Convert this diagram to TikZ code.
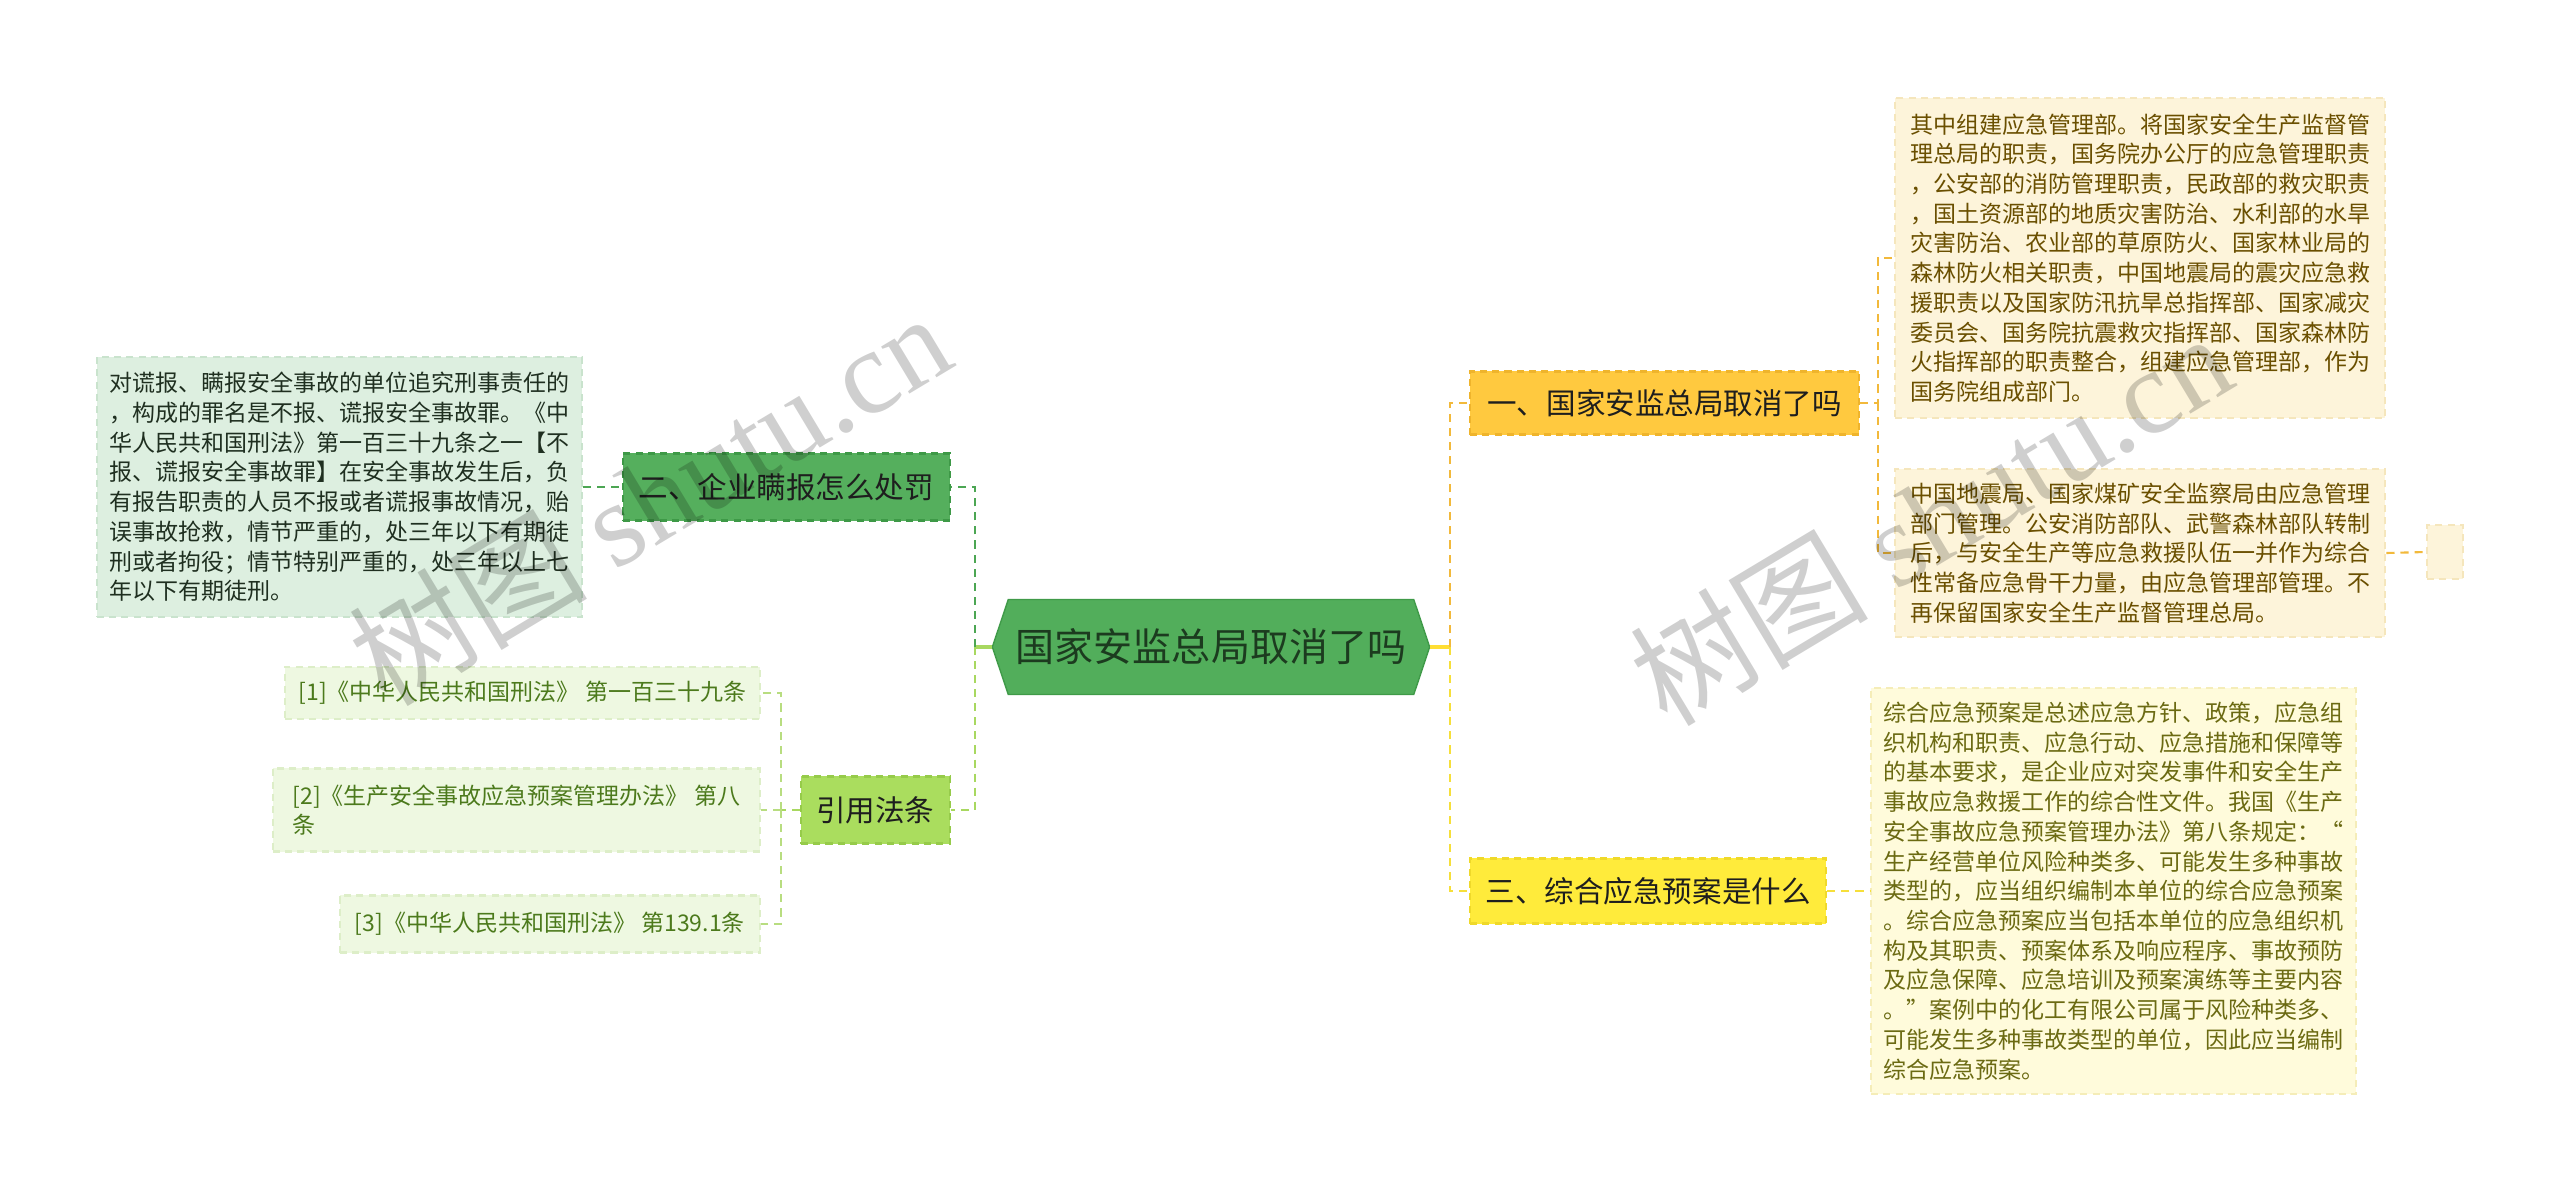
\documentclass[tikz,border=0pt]{standalone}
\usepackage{fontspec}
\setmainfont{Noto Sans CJK SC}
\newfontfamily\markfont{Liberation Serif}
\usepackage{tikz}
\usetikzlibrary{shapes.symbols}
\definecolor{rootGreen}{HTML}{52AE5B}
\definecolor{rootEdge}{HTML}{3F9A48}
\definecolor{rootText}{HTML}{1C3B1F}
\definecolor{amber}{HTML}{FFC93F}
\definecolor{amberEdge}{HTML}{EFB42C}
\definecolor{lemon}{HTML}{FFEB3B}
\definecolor{lemonEdge}{HTML}{EFD92A}
\definecolor{midGreen}{HTML}{55AF5D}
\definecolor{midGreenEdge}{HTML}{3E9947}
\definecolor{limeGreen}{HTML}{AADD5E}
\definecolor{limeEdge}{HTML}{96CB4A}
\definecolor{cream}{HTML}{FDF4DA}
\definecolor{creamEdge}{HTML}{F5E6BC}
\definecolor{paleLemon}{HTML}{FFFBDB}
\definecolor{paleLemonEdge}{HTML}{F5EDB8}
\definecolor{paleGreen}{HTML}{DDEFE0}
\definecolor{paleGreenEdge}{HTML}{C9E3CD}
\definecolor{paleLime}{HTML}{EEF8E1}
\definecolor{paleLimeEdge}{HTML}{DDEEC8}
\definecolor{brownText}{HTML}{6A4F00}
\definecolor{oliveText}{HTML}{6B6A12}
\definecolor{darkText}{HTML}{1F2F20}
\definecolor{citeText}{HTML}{4C7A1C}
\definecolor{topicText}{HTML}{1E1E1E}
\definecolor{amberLine}{HTML}{F2B93B}
\definecolor{lemonLine}{HTML}{F6DF3A}
\definecolor{yellowLine}{HTML}{FFDE33}
\definecolor{greenLine}{HTML}{4CA653}
\definecolor{limeLine}{HTML}{A8D860}
\definecolor{paleLimeLine}{HTML}{B8DD80}

\begin{document}
\begin{tikzpicture}[x=0.01cm,y=-0.01cm,
      box/.style={inner sep=0pt,line width=0.6pt,dash pattern=on 2pt off 1.5pt},
      topic/.style={box,font=\fontsize{8.4pt}{10pt}\selectfont,text=topicText,minimum height=0.63cm},
      leaf/.style={box,font=\fontsize{6.54pt}{8.45pt}\selectfont,align=left},
      link/.style={line width=0.6pt,dash pattern=on 2.3pt off 1.7pt},
      stub/.style={line width=0.9pt},
      wmark/.style={rotate=31,text=black,text opacity=0.19,font=\fontsize{34pt}{34pt}\selectfont}]
    \useasboundingbox (0,0) rectangle (2560,1194);

    \node[signal,signal to=east and west,signal pointer angle=143,fill=rootGreen,draw=rootEdge,
          minimum width=4.37cm,minimum height=0.95cm,inner sep=0pt,
          font=\fontsize{11.1pt}{13pt}\selectfont,text=rootText] (root) at (1211,647) {国家安监总局取消了吗};

    \node[topic,fill=amber,draw=amberEdge,minimum width=3.89cm,anchor=west] (sec1) at (1469,403) {一、国家安监总局取消了吗};
    \node[topic,fill=lemon,draw=lemonEdge,minimum width=3.56cm,minimum height=0.65cm,anchor=west] (sec3) at (1469,891) {三、综合应急预案是什么};
    \node[topic,fill=midGreen,draw=midGreenEdge,minimum width=3.27cm,minimum height=0.67cm,anchor=east] (sec2) at (951,487) {二、企业瞒报怎么处罚};
    \node[topic,fill=limeGreen,draw=limeEdge,minimum width=1.49cm,minimum height=0.67cm,anchor=east] (cite) at (951,810) {引用法条};

    \node[leaf,fill=cream,draw=creamEdge,text=brownText,minimum width=4.9cm,minimum height=3.2cm,anchor=west] (dept) at (1894,258)
      {其中组建应急管理部。将国家安全生产监督管\\理总局的职责，国务院办公厅的应急管理职责\\，公安部的消防管理职责，民政部的救灾职责\\，国土资源部的地质灾害防治、水利部的水旱\\灾害防治、农业部的草原防火、国家林业局的\\森林防火相关职责，中国地震局的震灾应急救\\援职责以及国家防汛抗旱总指挥部、国家减灾\\委员会、国务院抗震救灾指挥部、国家森林防\\火指挥部的职责整合，组建应急管理部，作为\\国务院组成部门。};
    \node[leaf,fill=cream,draw=creamEdge,text=brownText,minimum width=4.9cm,minimum height=1.68cm,anchor=west] (merge) at (1894,553)
      {中国地震局、国家煤矿安全监察局由应急管理\\部门管理。公安消防部队、武警森林部队转制\\后，与安全生产等应急救援队伍一并作为综合\\性常备应急骨干力量，由应急管理部管理。不\\再保留国家安全生产监督管理总局。};
    \node[box,fill=cream,draw=creamEdge,minimum width=0.36cm,minimum height=0.54cm,anchor=west] (spare) at (2426,552) {};
    \node[leaf,fill=paleLemon,draw=paleLemonEdge,text=oliveText,minimum width=4.85cm,minimum height=4.05cm,anchor=west] (plan) at (1870,891)
      {综合应急预案是总述应急方针、政策，应急组\\织机构和职责、应急行动、应急措施和保障等\\的基本要求，是企业应对突发事件和安全生产\\事故应急救援工作的综合性文件。我国《生产\\安全事故应急预案管理办法》第八条规定：“\\生产经营单位风险种类多、可能发生多种事故\\类型的，应当组织编制本单位的综合应急预案\\。综合应急预案应当包括本单位的应急组织机\\构及其职责、预案体系及响应程序、事故预防\\及应急保障、应急培训及预案演练等主要内容\\。”案例中的化工有限公司属于风险种类多、\\可能发生多种事故类型的单位，因此应当编制\\综合应急预案。};
    \node[leaf,fill=paleGreen,draw=paleGreenEdge,text=darkText,minimum width=4.85cm,minimum height=2.6cm,anchor=east] (penalty) at (583,487)
      {对谎报、瞒报安全事故的单位追究刑事责任的\\，构成的罪名是不报、谎报安全事故罪。《中\\华人民共和国刑法》第一百三十九条之一【不\\报、谎报安全事故罪】在安全事故发生后，负\\有报告职责的人员不报或者谎报事故情况，贻\\误事故抢救，情节严重的，处三年以下有期徒\\刑或者拘役；情节特别严重的，处三年以上七\\年以下有期徒刑。};

    \node[leaf,fill=paleLime,draw=paleLimeEdge,text=citeText,minimum width=4.75cm,minimum height=0.52cm,anchor=east] (ref1) at (761,693) {[1]《中华人民共和国刑法》 第一百三十九条};
    \node[leaf,fill=paleLime,draw=paleLimeEdge,text=citeText,minimum width=4.87cm,minimum height=0.83cm,anchor=east] (ref2) at (761,810) {[2]《生产安全事故应急预案管理办法》 第八\\条};
    \node[leaf,fill=paleLime,draw=paleLimeEdge,text=citeText,minimum width=4.2cm,minimum height=0.57cm,anchor=east] (ref3) at (761,924) {[3]《中华人民共和国刑法》 第139.1条};

    \coordinate (rhub) at (1450,647);
    \coordinate (lhub) at (975,647);
    \coordinate (hub1) at (1878,403);
    \coordinate (hub2) at (781,810);
    \draw[stub,draw=yellowLine] (root.east) -- (rhub);
    \draw[link,draw=amberLine] (rhub) |- (sec1.west);
    \draw[link,draw=lemonLine] (rhub) |- (sec3.west);
    \draw[stub,draw=limeLine] (root.west) -- (lhub);
    \draw[link,draw=greenLine] (lhub) |- (sec2.east);
    \draw[link,draw=limeLine] (lhub) |- (cite.east);
    \draw[link,draw=amberLine] (sec1.east) -- (hub1) |- (dept.west);
    \draw[link,draw=amberLine] (hub1) |- (merge.west);
    \draw[link,draw=amberLine] (merge.east) -- (spare.west);
    \draw[link,draw=lemonLine] (sec3.east) -- (plan.west);
    \draw[link,draw=greenLine] (penalty.east) -- (sec2.west);
    \draw[link,draw=limeLine] (cite.west) -- (hub2);
    \foreach \r in {ref1,ref2,ref3} \draw[link,draw=paleLimeLine] (hub2) |- (\r.east);

    \node[wmark] (mark1) at (649,498) {树图 {\markfont shutu.cn}};
    \node[wmark] (mark2) at (1930,518) {树图 {\markfont shutu.cn}};
  \end{tikzpicture}
\end{document}
